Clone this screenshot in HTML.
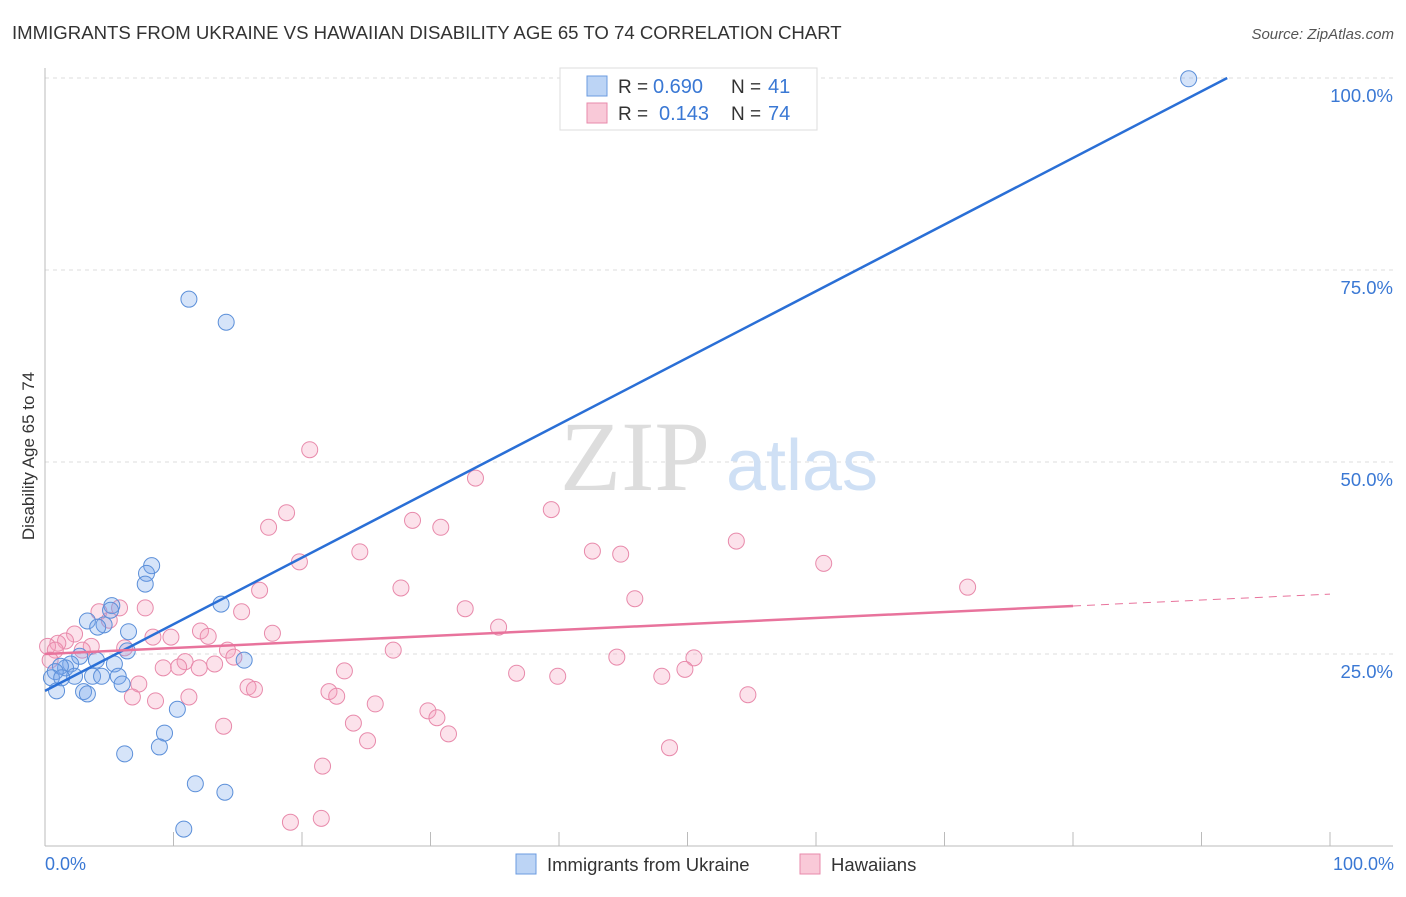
<!DOCTYPE html>
<html><head><meta charset="utf-8"><style>
body{margin:0;background:#fff;font-family:"Liberation Sans",sans-serif;}
</style></head><body>
<svg width="1406" height="892" xmlns="http://www.w3.org/2000/svg">
<text x="12" y="39" font-size="18.6" fill="#333">IMMIGRANTS FROM UKRAINE VS HAWAIIAN DISABILITY AGE 65 TO 74 CORRELATION CHART</text>
<text x="1394" y="39" font-size="15" fill="#555" font-style="italic" text-anchor="end">Source: ZipAtlas.com</text>
<g id="grid"></g>
<text x="635" y="490" font-size="100" fill="#ddd" font-family="Liberation Serif,serif" text-anchor="middle">ZIP</text>
<text x="802" y="490" font-size="72" fill="#cfe0f5" text-anchor="middle">atlas</text>
<g id="pts"></g>
<g id="lines"></g>
<text x="34" y="456" font-size="17" fill="#333" text-anchor="middle" transform="rotate(-90 34 456)">Disability Age 65 to 74</text>
<text x="45" y="870" font-size="18" fill="#3a78d4">0.0%</text>
<text x="1394" y="870" font-size="18" fill="#3a78d4" text-anchor="end">100.0%</text>
<g>
<rect x="560" y="68" width="257" height="62" fill="#fff" stroke="#ddd"/>
<rect x="587" y="76" width="20" height="20" fill="#bcd4f5" stroke="#6b9be0"/>
<rect x="587" y="103" width="20" height="20" fill="#f9c9d8" stroke="#e88aab"/>
<text x="618" y="93" font-size="19" fill="#333">R =</text>
<text x="653" y="93" font-size="20" fill="#3a78d4">0.690</text>
<text x="731" y="93" font-size="19" fill="#333">N =</text>
<text x="768" y="93" font-size="20" fill="#3a78d4">41</text>
<text x="618" y="120" font-size="19" fill="#333">R =</text>
<text x="659" y="120" font-size="20" fill="#3a78d4">0.143</text>
<text x="731" y="120" font-size="19" fill="#333">N =</text>
<text x="768" y="120" font-size="20" fill="#3a78d4">74</text>
</g>
<g>
<rect x="516" y="854" width="20" height="20" fill="#bcd4f5" stroke="#6b9be0"/>
<text x="547" y="871" font-size="18.5" fill="#333">Immigrants from Ukraine</text>
<rect x="800" y="854" width="20" height="20" fill="#f9c9d8" stroke="#e88aab"/>
<text x="831" y="871" font-size="18.5" fill="#333">Hawaiians</text>
</g>
</svg>
<script>
const yTicks=[25,50,75,100];
const xTicks=[0,10,20,30,40,50,60,70,80,90,100];
const blueX=[89,11.2,14.1,8.3,7.9,7.8,13.7,5.2,5.1,3.3,4.6,4.1,6.5,6.4,2.7,15.5,4.0,5.4,2.0,1.6,1.2,0.8,2.3,3.7,4.4,5.7,0.5,1.3,6.0,0.9,3.0,3.3,10.3,9.3,8.9,6.2,11.7,14.0,10.8];
const blueY=[99.9,71.2,68.2,36.5,35.5,34.1,31.5,31.3,30.7,29.3,28.8,28.5,27.9,25.4,24.7,24.2,24.2,23.7,23.7,23.2,23.4,22.7,22.1,22.1,22.1,22.1,21.9,21.9,21.1,20.2,20.1,19.8,17.8,14.7,12.9,12.0,8.1,7.0,2.2];
const pinkX=[20.6,33.5,39.4,18.8,17.4,28.6,30.8,53.8,42.6,44.8,24.5,19.8,60.6,71.8,27.7,16.7,45.9,32.7,7.8,15.3,5.8,4.2,5.0,35.3,17.7,12.1,12.7,9.8,8.4,2.3,1.6,1.0,0.2,0.8,3.6,2.9,6.2,14.2,27.1,14.7,0.4,44.5,50.5,10.9,13.2,9.2,10.4,12.0,23.3,49.8,36.7,39.9,48.0,7.3,15.8,16.3,22.1,22.7,6.8,11.2,54.7,8.6,25.7,29.8,30.5,24.0,13.9,31.4,25.1,48.6,21.6,21.5,19.1];
const pinkY=[51.6,47.9,43.8,43.4,41.5,42.4,41.5,39.7,38.4,38.0,38.3,37.0,36.8,33.7,33.6,33.3,32.2,30.9,31.0,30.5,31.0,30.5,29.4,28.5,27.7,28.0,27.3,27.2,27.2,27.6,26.7,26.4,26.0,25.5,26.0,25.5,25.8,25.5,25.5,24.6,24.2,24.6,24.5,24.0,23.7,23.2,23.3,23.2,22.8,23.0,22.5,22.1,22.1,21.1,20.7,20.4,20.1,19.5,19.4,19.4,19.7,18.9,18.5,17.6,16.7,16.0,15.6,14.6,13.7,12.8,10.4,3.6,3.1];
const blueLine=[0,20.2,92,100];
const pinkLine=[0,25,80,31.25,100,32.8];
const NS='http://www.w3.org/2000/svg';
const X=v=>45+v*12.85, Y=v=>846-v*7.68;
function mk(t,a,p){const e=document.createElementNS(NS,t);for(const k in a)e.setAttribute(k,a[k]);p.appendChild(e);return e;}
const g=document.getElementById('grid');
yTicks.forEach(t=>{const l=mk('line',{x1:45,x2:1393,y1:Y(t),y2:Y(t),stroke:'#ddd','stroke-dasharray':'4,4'},g);


const tx=mk('text',{x:1393,y:Y(t)+24,'font-size':18.5,fill:'#3a78d4','text-anchor':'end'},g);tx.textContent=t.toFixed(1)+'%';

});
mk('line',{x1:45,x2:45,y1:68,y2:846,stroke:'#bbb'},g);
mk('line',{x1:45,x2:1393,y1:846,y2:846,stroke:'#bbb'},g);
xTicks.forEach(t=>{const l=mk('line',{x1:X(t),x2:X(t),y1:832,y2:846,stroke:'#bbb'},g);

});
const p=document.getElementById('pts');
pinkX.forEach((v,i)=>{const c=mk('circle',{cx:X(v),cy:Y(pinkY[i]),r:8,fill:'rgba(244,160,190,0.3)',stroke:'#e88aab','stroke-width':1},p);

});
blueX.forEach((v,i)=>{const c=mk('circle',{cx:X(v),cy:Y(blueY[i]),r:8,fill:'rgba(120,165,235,0.3)',stroke:'#5b8fd9','stroke-width':1},p);

});
const L=document.getElementById('lines');
const bl=mk('line',{x1:X(blueLine[0]),y1:Y(blueLine[1]),x2:X(blueLine[2]),y2:Y(blueLine[3]),stroke:'#2a6fd6','stroke-width':2.5},L);


const pl=mk('line',{x1:X(pinkLine[0]),y1:Y(pinkLine[1]),x2:X(pinkLine[2]),y2:Y(pinkLine[3]),stroke:'#e8739c','stroke-width':2.5},L);


const pd=mk('line',{x1:X(pinkLine[2]),y1:Y(pinkLine[3]),x2:X(pinkLine[4]),y2:Y(pinkLine[5]),stroke:'#e8739c','stroke-width':1,'stroke-dasharray':'8,6'},L);


</script>
</body></html>
